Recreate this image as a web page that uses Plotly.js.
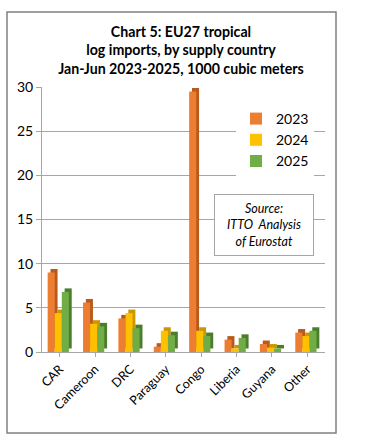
<!DOCTYPE html>
<html><head><meta charset="utf-8">
<script src="https://cdn.plot.ly/plotly-3.0.1.min.js"></script>
<style>html,body{margin:0;padding:0;background:#fff}</style>
</head><body>
<div id="chart" style="width:367px;height:443px"></div>
<script>
const categories = ["CAR","Cameroon","DRC","Paraguay","Congo","Liberia","Guyana","Other"];
const v2023 = [9.0, 5.6, 3.8, 0.6, 29.5, 1.4, 0.9, 2.2];
const v2024 = [4.4, 3.2, 4.4, 2.4, 2.4, 0.4, 0.5, 1.8];
const v2025 = [6.8, 2.9, 2.7, 1.9, 1.8, 1.6, 0.4, 2.4];
const yTicks = [0, 5, 10, 15, 20, 25, 30];

const series = [
  {name: "2023", y: v2023, color: "#ED7D31", dark: "#B85A1C"},
  {name: "2024", y: v2024, color: "#FFC000", dark: "#C99700"},
  {name: "2025", y: v2025, color: "#70AD47", dark: "#4A7D2C"}
];

const barW = 0.2, depthX = 0.08, depthY = 0.4;
const traces = [];
series.forEach((s, i) => {
  const off = -0.34 + i * barW;
  traces.push({
    type: "bar", name: s.name + " depth", x: categories, y: s.y,
    base: s.y.map(() => depthY), offset: off + depthX, width: barW,
    marker: {color: s.dark, line: {width: 0}}, showlegend: false, hoverinfo: "skip"
  });
});
series.forEach((s, i) => {
  const off = -0.34 + i * barW;
  traces.push({
    type: "bar", name: s.name, x: categories, y: s.y,
    offset: off, width: barW,
    marker: {color: s.color, line: {width: 0}}, hoverinfo: "x+y+name"
  });
});

const L = 42, R = 325, T = 87, B = 352, W = 367, H = 443;
const px = v => (v - L) / (R - L);
const py = v => (B - v) / (B - T);

const layout = {
  width: W, height: H,
  margin: {l: L, r: W - R, t: T, b: H - B, pad: 0},
  paper_bgcolor: "#fff", plot_bgcolor: "#fff",
  font: {family: "Lato, 'Open Sans', sans-serif", color: "#000"},
  title: {
    text: "Chart 5: EU27 tropical<br>log imports, by supply country<br>Jan-Jun 2023-2025, 1000 cubic meters",
    font: {family: "Lato, sans-serif", size: 14.2, color: "#000", weight: "bold"},
    x: 181 / W, xref: "container", xanchor: "center",
    y: 1 - 37 / H, yref: "container", yanchor: "middle"
  },
  barmode: "overlay",
  xaxis: {
    type: "category", tickangle: -45, showgrid: false, zeroline: false,
    showline: true, linecolor: "#A6A6A6", linewidth: 1,
    ticks: "outside", ticklen: 4, tickcolor: "#A6A6A6",
    tickfont: {size: 12.5, color: "#000"}, fixedrange: true
  },
  yaxis: {
    range: [0, 30], tickvals: yTicks, ticktext: yTicks.map(String),
    showgrid: true, gridcolor: "#A6A6A6", gridwidth: 1, zeroline: false,
    showline: true, linecolor: "#A6A6A6", ticks: "outside", ticklen: 5, tickcolor: "#A6A6A6",
    tickfont: {size: 14, color: "#000"}, fixedrange: true
  },
  legend: {
    x: px(236), y: py(103), xanchor: "left", yanchor: "top",
    bgcolor: "#fff", borderwidth: 0, font: {size: 14, color: "#000"},
    tracegroupgap: 4, itemwidth: 30, traceorder: "normal"
  },
  annotations: [{
    xref: "paper", yref: "paper", x: px(264), y: py(225),
    xanchor: "center", yanchor: "middle",
    text: "<i>Source:<br>ITTO&nbsp; Analysis<br>of Eurostat</i>",
    showarrow: false, align: "center",
    font: {size: 12.5, color: "#000"},
    bgcolor: "#fff", bordercolor: "#A6A6A6", borderwidth: 1, borderpad: 6, width: 86
  }],
  shapes: [{
    type: "rect", xref: "paper", yref: "paper", layer: "below",
    x0: px(7), x1: px(336), y0: py(433), y1: py(12),
    line: {color: "#808080", width: 1.5}, fillcolor: "rgba(0,0,0,0)"
  }],
  showlegend: true
};

Plotly.newPlot("chart", traces, layout, {displayModeBar: false, staticPlot: true});
</script>
</body></html>
